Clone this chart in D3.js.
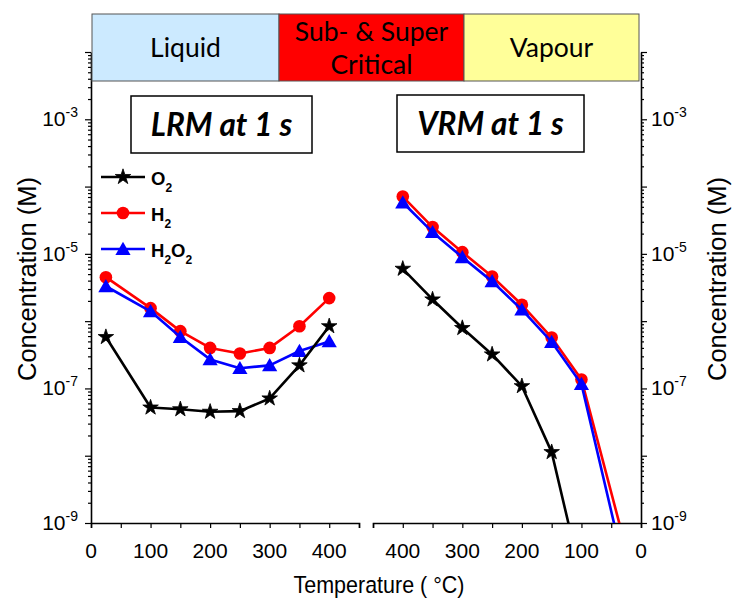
<!DOCTYPE html>
<html><head><meta charset="utf-8">
<script src="https://cdn.jsdelivr.net/npm/d3@7"></script>
<style>body{margin:0;background:#fff}</style>
</head><body>
<svg id="c" width="733" height="601"></svg>
<script>
// ---- data ----
const tempsLRM = [25, 100, 150, 200, 250, 300, 350, 400];
const lrmO2   = [5.8e-7, 5.2e-8, 4.9e-8, 4.5e-8, 4.6e-8, 7.1e-8, 2.2e-7, 8.4e-7];
const lrmH2   = [4.5e-6, 1.56e-6, 7.1e-7, 4.0e-7, 3.3e-7, 4.0e-7, 8.4e-7, 2.2e-6];
const lrmH2O2 = [3.3e-6, 1.4e-6, 5.8e-7, 2.7e-7, 2.0e-7, 2.2e-7, 3.6e-7, 5.0e-7];

const tempsVRM = [400, 350, 300, 250, 200, 150, 100, 25];
const vrmO2   = [6.0e-6, 2.1e-6, 7.9e-7, 3.2e-7, 1.08e-7, 1.13e-8, 1.5e-10, null];
const vrmH2   = [7.1e-5, 2.5e-5, 1.06e-5, 4.6e-6, 1.75e-6, 5.7e-7, 1.36e-7, 4.1e-10];
const vrmH2O2 = [5.8e-5, 2.1e-5, 8.9e-6, 3.9e-6, 1.48e-6, 4.9e-7, 1.16e-7, 1.7e-10];

const xTicksLRM = [0, 100, 200, 300, 400];
const xTicksVRM = [400, 300, 200, 100, 0];
const yLabelExps = [-9, -7, -5, -3];
const phases = ["Liquid", "Sub- & Super|Critical", "Vapour"];
const seriesNames = ["O2", "H2", "H2O2"];
const seriesColors = ["#000000", "#ff0000", "#0000ff"];

// ---- scales ----
const svg = d3.select("#c");
const yTop = 52, yBot = 523;
const y = d3.scaleLog().domain([1e-9, 1e-2]).range([yBot, yTop]);
const xL = d3.scaleLinear().domain([0, 450]).range([91, 359]);
const xR = d3.scaleLinear().domain([450, 0]).range([373, 641]);

const font = "'Liberation Sans', Arial, sans-serif";
const calib = "Lato, 'Open Sans', sans-serif";

const allY = [];
for (let e = -9; e <= -2; e++) for (let m = 1; m <= 9; m++) { const v = m * Math.pow(10, e); if (v <= 1.0001e-2) allY.push(v); }
function isMajor(v){ const l = Math.log10(v); return Math.abs(l - Math.round(l)) < 1e-6; }

function styleAxis(g){
  g.select(".domain").attr("stroke", "#000").attr("stroke-width", 1.6);
  g.selectAll(".tick line").attr("stroke", "#000").attr("stroke-width", 1.2);
  g.selectAll(".tick text").remove();
}

// Y axes
const yAxL = svg.append("g").attr("transform", `translate(${xL(0)},0)`)
  .call(d3.axisLeft(y).tickValues(allY).tickSizeOuter(0).tickFormat(""));
styleAxis(yAxL);
yAxL.selectAll(".tick line").attr("x2", d => isMajor(d) ? -6 : -3);

const yAxR = svg.append("g").attr("transform", `translate(${xR(0)},0)`)
  .call(d3.axisRight(y).tickValues(allY).tickSizeOuter(0).tickFormat(""));
styleAxis(yAxR);
yAxR.selectAll(".tick line").attr("x2", d => isMajor(d) ? 6 : 3);

function yLabels(x, anchor){
  const t = svg.append("g").selectAll("text").data(yLabelExps).join("text")
    .attr("x", x).attr("y", d => y(Math.pow(10, d)) + 7)
    .attr("text-anchor", anchor).attr("font-family", font).attr("font-size", 21).attr("fill", "#000");
  t.append("tspan").text("10");
  t.append("tspan").attr("dy", -9).attr("font-size", 14).text(d => String(d));
}
yLabels(78, "end");
yLabels(651, "start");

// X axes
const xAxL = svg.append("g").attr("transform", `translate(0,${yBot})`)
  .call(d3.axisBottom(xL).tickValues(d3.range(0, 451, 50)).tickSizeOuter(0).tickSize(5).tickFormat(""));
styleAxis(xAxL);
const xAxR = svg.append("g").attr("transform", `translate(0,${yBot})`)
  .call(d3.axisBottom(xR).tickValues(d3.range(0, 451, 50)).tickSizeOuter(0).tickSize(5).tickFormat(""));
styleAxis(xAxR);

svg.append("g").selectAll("text").data(xTicksLRM).join("text")
  .attr("x", d => xL(d)).attr("y", 558).attr("text-anchor", "middle")
  .attr("font-family", font).attr("font-size", 21).text(d => d);
svg.append("g").selectAll("text").data(xTicksVRM).join("text")
  .attr("x", d => xR(d)).attr("y", 558).attr("text-anchor", "middle")
  .attr("font-family", font).attr("font-size", 21).text(d => d);

// axis titles
svg.append("text").attr("transform", "translate(379,593) scale(1,1.12)").attr("text-anchor", "middle")
  .attr("font-family", font).attr("font-size", 21.5).text("Temperature ( \u00B0C)");
svg.append("text").attr("transform", "translate(36,279) rotate(-90)").attr("text-anchor", "middle")
  .attr("font-family", font).attr("font-size", 25.5).text("Concentration (M)");
svg.append("text").attr("transform", "translate(726,279) rotate(-90)").attr("text-anchor", "middle")
  .attr("font-family", font).attr("font-size", 25.5).text("Concentration (M)");

// clip paths
const defs = svg.append("defs");
defs.append("clipPath").attr("id", "clipL").append("rect").attr("x", 80).attr("y", 0).attr("width", 290).attr("height", yBot);
defs.append("clipPath").attr("id", "clipR").append("rect").attr("x", 365).attr("y", 0).attr("width", 285).attr("height", yBot);

const symbols = [d3.symbol().type(d3.symbolStar).size(75),
                 d3.symbol().type(d3.symbolCircle).size(125),
                 d3.symbol().type(d3.symbolTriangle).size(100)];

function drawSeries(xs, temps, vals, ci, clip){
  const pts = temps.map((t, i) => ({t, v: vals[i]})).filter(d => d.v != null);
  const g = svg.append("g").attr("clip-path", `url(#${clip})`);
  g.append("path").datum(pts)
    .attr("d", d3.line().x(d => xs(d.t)).y(d => y(d.v)))
    .attr("fill", "none").attr("stroke", seriesColors[ci]).attr("stroke-width", 2.6).attr("stroke-linejoin", "round");
  g.selectAll("path.m").data(pts.filter(d => d.v >= 1e-9)).join("path").attr("class", "m")
    .attr("transform", d => `translate(${xs(d.t)},${y(d.v) + (ci === 2 ? 1.5 : 0)})`)
    .attr("d", symbols[ci]()).attr("fill", seriesColors[ci])
    .attr("stroke", ci === 0 ? "#000" : "none").attr("stroke-width", 0.8);
}
drawSeries(xL, tempsLRM, lrmH2, 1, "clipL");
drawSeries(xL, tempsLRM, lrmH2O2, 2, "clipL");
drawSeries(xL, tempsLRM, lrmO2, 0, "clipL");
drawSeries(xR, tempsVRM, vrmH2, 1, "clipR");
drawSeries(xR, tempsVRM, vrmH2O2, 2, "clipR");
drawSeries(xR, tempsVRM, vrmO2, 0, "clipR");

// legend
const legY = [177, 213, 249];
const lg = svg.append("g");
seriesNames.forEach((n, i) => {
  lg.append("line").attr("x1", 101).attr("x2", 145).attr("y1", legY[i]).attr("y2", legY[i])
    .attr("stroke", seriesColors[i]).attr("stroke-width", 2.6);
  lg.append("path").attr("transform", `translate(123,${legY[i] + (i === 2 ? 1.5 : 0)})`).attr("d", symbols[i]())
    .attr("fill", seriesColors[i]).attr("stroke", i === 0 ? "#000" : "none").attr("stroke-width", 0.8);
  const t = lg.append("text").attr("x", 151).attr("y", legY[i] + 8)
    .attr("font-family", font).attr("font-size", 18.5).attr("font-weight", "bold");
  const parts = n.match(/[A-Z]|\d/g);
  let prevSub = false;
  parts.forEach(p => {
    if (/\d/.test(p)) { t.append("tspan").attr("font-size", 12).attr("dy", 7).text(p); prevSub = true; }
    else { t.append("tspan").attr("dy", prevSub ? -7 : 0).text(p); prevSub = false; }
  });
});

// phase band
const bandX = [92, 279, 464, 639];
const bandCol = ["#cceaff", "#ff0000", "#ffff99"];
phases.forEach((p, i) => {
  svg.append("rect").attr("x", bandX[i]).attr("y", 14).attr("width", bandX[i+1] - bandX[i]).attr("height", 67)
    .attr("fill", bandCol[i]).attr("stroke", "#555").attr("stroke-width", 1);
  const lines = p.split("|");
  const cx = (bandX[i] + bandX[i+1]) / 2;
  lines.forEach((l, j) => {
    const cy = lines.length === 1 ? 57 : 41 + j * 33;
    svg.append("text").attr("x", cx).attr("y", cy).attr("text-anchor", "middle")
      .attr("font-family", calib).attr("font-size", 26.5).attr("fill", "#000").text(l);
  });
});

// title boxes
const boxes = [{x0:131, x1:312, y0:96, y1:153, t:"LRM at 1 s"}, {x0:397, x1:584, y0:95, y1:152, t:"VRM at 1 s"}];
boxes.forEach(b => {
  svg.append("rect").attr("x", b.x0).attr("y", b.y0).attr("width", b.x1 - b.x0).attr("height", b.y1 - b.y0)
    .attr("fill", "#fff").attr("stroke", "#000").attr("stroke-width", 1.5);
  svg.append("text").attr("x", (b.x0 + b.x1) / 2).attr("y", (b.y0 + b.y1) / 2 + 11).attr("text-anchor", "middle")
    .attr("font-family", calib).attr("font-size", 31.5).attr("font-weight", "bold").attr("font-style", "italic").text(b.t);
});
</script>
</body></html>
